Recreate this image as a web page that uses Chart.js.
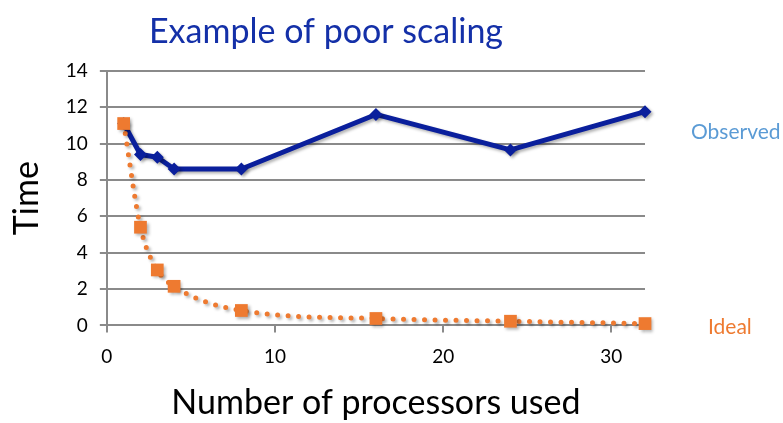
<!DOCTYPE html>
<html>
<head>
<meta charset="utf-8">
<script src="https://cdn.jsdelivr.net/npm/chart.js@4"></script>
<style>
  html, body { margin: 0; padding: 0; background: #fff; }
  #wrap { width: 783px; height: 423px; }
</style>
</head>
<body>
<div id="wrap"><canvas id="chart"></canvas></div>
<script>
var processors = [1, 2, 3, 4, 8, 16, 24, 32]
var observedTime = [11.1, 9.4, 9.25, 8.6, 8.6, 11.6, 9.65, 11.75]
var idealTime = [11.1, 5.4, 3.05, 2.15, 0.82, 0.38, 0.23, 0.1]
var xTickValues = [0, 10, 20, 30]
var yTickValues = [0, 2, 4, 6, 8, 10, 12, 14]
var seriesNames = ["Observed", "Ideal"]

var fontFamily = "Lato, 'Liberation Sans', sans-serif"
var blue = "#0A1F9C"
var orange = "#EE7A30"
var gridGray = "#8A8A8A"

function toPoints(xs, ys){
    let pts = []
    for (let i = 0; i < xs.length; i++) pts.push({x: xs[i], y: ys[i]})
    return pts
}

// series names written next to the right end of the plot
var endLabels = {
    id: "endLabels",
    afterDraw(chart){
        let ctx = chart.ctx
        let area = chart.chartArea
        let y = chart.scales.y
        ctx.save()
        ctx.font = "21px " + fontFamily
        ctx.textBaseline = "middle"
        ctx.textAlign = "left"
        ctx.fillStyle = "#5B9BD5"
        ctx.fillText(seriesNames[0], area.right + 46, y.getPixelForValue(10.6))
        ctx.fillStyle = orange
        ctx.fillText(seriesNames[1], area.right + 63, y.getPixelForValue(-0.1))
        ctx.restore()
    }
}

// soft drop shadow under the lines and markers
var softShadow = {
    id: "softShadow",
    beforeDatasetDraw(chart){
        let ctx = chart.ctx
        ctx.save()
        ctx.shadowColor = "rgba(0,0,0,0.3)"
        ctx.shadowOffsetX = 2
        ctx.shadowOffsetY = 2
        ctx.shadowBlur = 3
    },
    afterDatasetDraw(chart){
        chart.ctx.restore()
    }
}

window.onload = function () {
    let ctx = document.getElementById("chart").getContext("2d")
    new Chart(ctx, {
        type: "scatter",
        data: {
            datasets: [{
                label: seriesNames[1],
                data: toPoints(processors, idealTime),
                showLine: true,
                clip: false,
                borderColor: orange,
                backgroundColor: orange,
                borderWidth: 5,
                borderDash: [0, 10.5],
                borderCapStyle: "round",
                cubicInterpolationMode: "monotone",
                tension: 0.4,
                pointStyle: "rect",
                pointRadius: 9,
                pointBorderWidth: 0,
                order: 0
            }, {
                label: seriesNames[0],
                data: toPoints(processors, observedTime),
                showLine: true,
                clip: false,
                borderColor: blue,
                backgroundColor: blue,
                borderWidth: 5,
                borderJoinStyle: "round",
                pointStyle: "rectRot",
                pointRadius: 6.5,
                pointBorderWidth: 0,
                order: 1
            }]
        },
        options: {
            animation: false,
            responsive: true,
            maintainAspectRatio: false,
            layout: { padding: { left: 7, right: 138, top: 0, bottom: 0 } },
            plugins: {
                legend: { display: false },
                tooltip: { enabled: false },
                title: {
                    display: true,
                    text: "Example of poor scaling",
                    color: "#1430A8",
                    font: { family: fontFamily, size: 34, weight: "normal" },
                    padding: { top: 12, bottom: 18 }
                }
            },
            scales: {
                x: {
                    type: "linear",
                    min: 0,
                    max: 32,
                    afterBuildTicks: (scale) => { scale.ticks = xTickValues.map(v => ({value: v})) },
                    grid: { display: true, drawOnChartArea: false, drawTicks: true, tickLength: 7, color: gridGray, lineWidth: 2 },
                    border: { display: true, color: gridGray, width: 2 },
                    ticks: { color: "#000", font: { family: fontFamily, size: 19 }, padding: 13, maxRotation: 0 },
                    title: {
                        display: true,
                        text: "Number of processors used",
                        color: "#000",
                        font: { family: fontFamily, size: 34 },
                        padding: { top: 1, bottom: 0 }
                    }
                },
                y: {
                    type: "linear",
                    min: 0,
                    max: 14,
                    afterBuildTicks: (scale) => { scale.ticks = yTickValues.map(v => ({value: v})) },
                    grid: { color: gridGray, lineWidth: 2, tickLength: 7 },
                    border: { display: true, color: gridGray, width: 2 },
                    ticks: { color: "#000", font: { family: fontFamily, size: 19 }, padding: 12 },
                    title: {
                        display: true,
                        text: "Time",
                        color: "#000",
                        font: { family: fontFamily, size: 34 },
                        padding: { top: 0, bottom: 6 }
                    }
                }
            }
        },
        plugins: [endLabels, softShadow]
    })
}
</script>
</body>
</html>
